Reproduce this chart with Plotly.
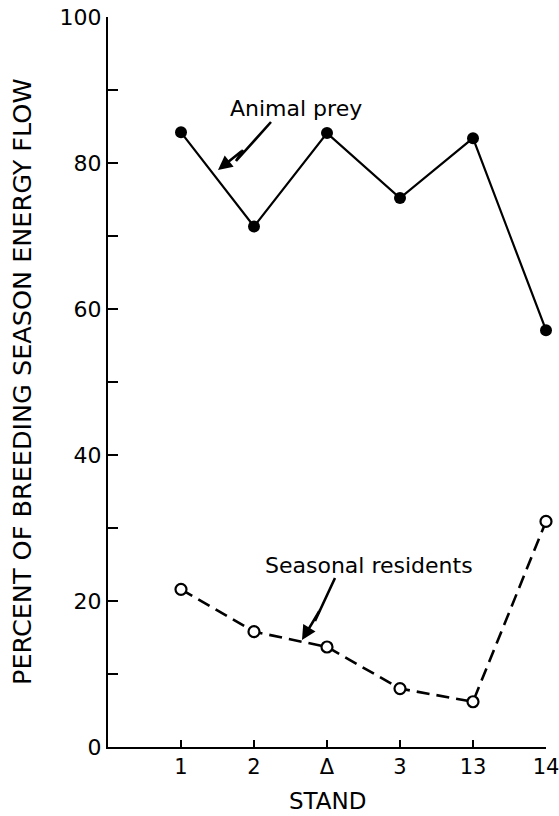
import plotly.graph_objects as go

# Stands along the horizontal axis
stands = ["1", "2", "\u0394", "3", "13", "14"]
# Percent of breeding-season energy flow
animal_prey = [84.2, 71.3, 84.1, 75.2, 83.4, 57.1]
seasonal_residents = [21.6, 15.8, 13.7, 8.0, 6.2, 30.9]

y_major = [0, 20, 40, 60, 80, 100]
y_minor = [10, 30, 50, 70, 90]

xpos = list(range(len(stands)))

# Plot frame in page pixels
W, H = 559, 816
L, R, T, B = 108, 546, 17, 747
XR = (-1, 5)
YR = (0, 100)


def px_to_data(px, py):
    x = XR[0] + (px - L) * (XR[1] - XR[0]) / (R - L)
    y = YR[0] + (B - py) * (YR[1] - YR[0]) / (B - T)
    return x, y


FONT = "DejaVu Sans"

fig = go.Figure()

fig.add_trace(go.Scatter(
    x=xpos, y=animal_prey, mode="lines+markers", name="Animal prey",
    line=dict(color="black", width=2.2),
    marker=dict(symbol="circle", size=12, color="black"),
    showlegend=False, hoverinfo="skip", cliponaxis=False,
))

fig.add_trace(go.Scatter(
    x=xpos, y=seasonal_residents, mode="lines+markers", name="Seasonal residents",
    line=dict(color="black", width=2.6, dash="13px,7px"),
    marker=dict(symbol="circle", size=11, color="white",
                line=dict(color="black", width=2.2)),
    showlegend=False, hoverinfo="skip", cliponaxis=False,
))


def bolt(points_px):
    """Zig-zag pointer: polyline plus an arrowhead on the last segment."""
    pts = [px_to_data(*p) for p in points_px]
    fig.add_trace(go.Scatter(
        x=[p[0] for p in pts[:-1]], y=[p[1] for p in pts[:-1]],
        mode="lines", line=dict(color="black", width=2.6),
        showlegend=False, hoverinfo="skip",
    ))
    (x0, y0), (x1, y1) = pts[-2], pts[-1]
    fig.add_annotation(
        x=x1, y=y1, ax=x0, ay=y0, xref="x", yref="y", axref="x", ayref="y",
        text="", showarrow=True, arrowhead=2, arrowsize=1.1, arrowwidth=2.6,
        arrowcolor="black",
    )


bolt([(271, 122), (236, 161), (243, 150), (218, 170)])
bolt([(335, 578), (315, 621), (320, 610), (302, 640)])

lx, ly = px_to_data(296, 108)
fig.add_annotation(x=lx, y=ly, xref="x", yref="y", text="Animal prey",
                   showarrow=False, font=dict(family=FONT, size=22, color="black"))
lx, ly = px_to_data(369, 565)
fig.add_annotation(x=lx, y=ly, xref="x", yref="y", text="Seasonal residents",
                   showarrow=False, font=dict(family=FONT, size=22, color="black"))

# Axis titles placed in plot-area (paper) coordinates
fig.add_annotation(
    x=(22 - L) / (R - L), y=0.5, xref="paper", yref="paper",
    xanchor="center", yanchor="middle", textangle=-90, showarrow=False,
    text="PERCENT OF BREEDING SEASON ENERGY FLOW",
    font=dict(family=FONT, size=25.5, color="black"),
)
fig.add_annotation(
    x=(328 - L) / (R - L), y=-(801 - B) / (B - T), xref="paper", yref="paper",
    xanchor="center", yanchor="middle", showarrow=False,
    text="STAND", font=dict(family=FONT, size=23, color="black"),
)

fig.update_layout(
    width=W, height=H,
    margin=dict(l=L, r=W - R, t=T, b=H - B, autoexpand=False),
    paper_bgcolor="white", plot_bgcolor="white",
    font=dict(family=FONT, color="black", size=22),
    xaxis=dict(
        range=list(XR), tickmode="array", tickvals=xpos, ticktext=stands,
        ticks="inside", ticklen=7, tickwidth=2, tickcolor="black",
        showline=True, linecolor="black", linewidth=2,
        showgrid=False, zeroline=False, automargin=False,
        ticklabeloverflow="allow",
        tickfont=dict(family=FONT, size=21),
    ),
    yaxis=dict(
        range=list(YR), tickmode="array", tickvals=y_major,
        ticktext=[str(v) for v in y_major],
        ticks="inside", ticklen=10, tickwidth=2, tickcolor="black",
        minor=dict(tickvals=y_minor, ticks="inside", ticklen=10, tickwidth=2,
                   tickcolor="black", showgrid=False),
        showline=True, linecolor="black", linewidth=2,
        showgrid=False, zeroline=False, automargin=False,
        ticklabeloverflow="allow",
        tickfont=dict(family=FONT, size=22),
    ),
)

fig.write_html("out.html")
